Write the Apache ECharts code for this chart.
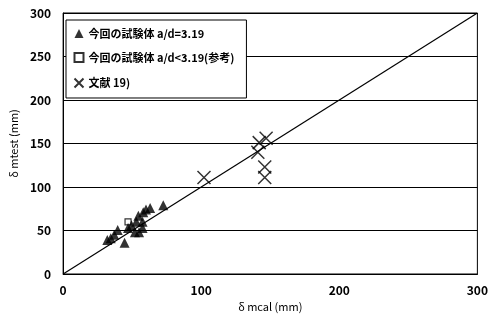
<!DOCTYPE html>
<html><head><meta charset="utf-8">
<script src="https://cdn.jsdelivr.net/npm/echarts@6/dist/echarts.min.js"></script>
<style>html,body{margin:0;padding:0;background:#fff}#c{width:491px;height:321px}</style>
</head><body><div id="c"></div>
<script>
const seriesNames = ['今回の試験体 a/d=3.19', '今回の試験体 a/d<3.19(参考)', '文献 19)'];
const currentTests = [
  [32,39],[34.5,41],[37,45],[39.5,50.5],[44.5,36],[47,53],[49.5,56],[53,60],
  [52,48],[55,48],[57.5,53],[54.5,67],[58,71],[60,74],[63,76],[72.5,79],[57.5,60]
];
const referenceTests = [[47,60]];
const literature = [[147,156],[142,151],[141,140],[146,123],[146,111],[102,111]];
const equalityLine = [[0,0],[300,300]];
const axisTicks = [0,100,200,300];
const yTicks = [0,50,100,150,200,250,300];

const font = '"Noto Sans CJK JP", "Noto Sans", sans-serif';
const crossPath = 'path://M0,0L10,10M10,0L0,10';
const chart = echarts.init(document.getElementById('c'));
chart.setOption({
  animation: false,
  backgroundColor: '#fff',
  grid: {left: 62, right: 11, top: 13, bottom: 47, show: true, borderColor: '#000', borderWidth: 1},
  legend: {
    orient: 'vertical', left: 66, top: 20, padding: [8, 12, 8, 6],
    borderColor: '#000', borderWidth: 1, backgroundColor: '#fff',
    itemGap: 13, itemWidth: 9, itemHeight: 9,
    textStyle: {fontFamily: font, fontSize: 11, fontWeight: 'bold', color: '#000'},
    data: seriesNames.map(n => ({name: n}))
  },
  xAxis: {
    type: 'value', min: 0, max: 300, interval: 100,
    name: 'δ mcal (mm)', nameLocation: 'middle', nameGap: 26,
    nameTextStyle: {fontFamily: font, fontSize: 11, color: '#000'},
    axisLine: {lineStyle: {color: '#000', width: 1}},
    axisTick: {show: false},
    axisLabel: {fontFamily: font, fontSize: 12, fontWeight: 'bold', color: '#000', margin: 10},
    splitLine: {show: false}
  },
  yAxis: {
    type: 'value', min: 0, max: 300, interval: 50,
    name: 'δ mtest (mm)', nameLocation: 'middle', nameGap: 35, nameRotate: 90,
    nameTextStyle: {fontFamily: font, fontSize: 11, color: '#000'},
    axisLine: {lineStyle: {color: '#000', width: 1}},
    axisTick: {show: false},
    axisLabel: {fontFamily: font, fontSize: 12, fontWeight: 'bold', color: '#000', margin: 12},
    splitLine: {show: true, lineStyle: {color: '#000', width: 1}}
  },
  series: [
    {name: seriesNames[0], type: 'scatter', data: currentTests, symbol: 'triangle', symbolSize: 10,
     itemStyle: {color: '#000'}, z: 3},
    {name: seriesNames[1], type: 'scatter', data: referenceTests, symbol: 'rect', symbolSize: 6,
     itemStyle: {color: '#fff', borderColor: '#000', borderWidth: 1.2}, z: 2},
    {name: seriesNames[2], type: 'scatter', data: literature, symbol: crossPath, symbolSize: 13,
     itemStyle: {color: 'none', borderColor: '#000', borderWidth: 1.5}, z: 3},
    {type: 'line', data: equalityLine, symbol: 'none', lineStyle: {color: '#000', width: 1.2}, z: 1, silent: true}
  ]
});
</script></body></html>
